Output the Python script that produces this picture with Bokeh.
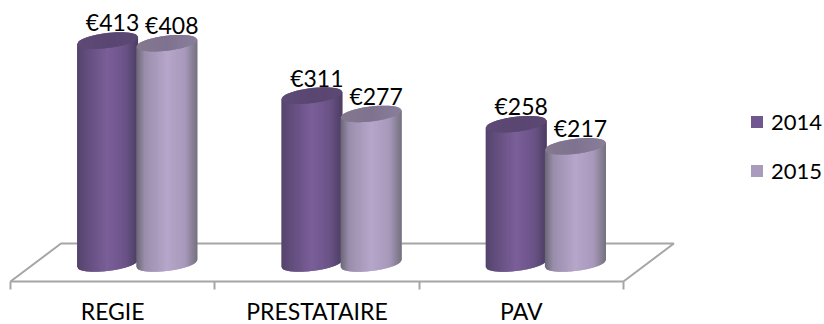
import numpy as np
from bokeh.plotting import figure, ColumnDataSource
from bokeh.embed import file_html
from bokeh.resources import INLINE
from bokeh.models import Range1d, LinearAxis, FixedTicker, Legend, LegendItem
from bokeh.core.properties import value

categories = ["REGIE", "PRESTATAIRE", "PAV"]
series_names = ["2014", "2015"]
values_2014 = [413, 311, 258]
values_2015 = [408, 277, 217]
tick_positions = [0.5, 1.5, 2.5]
tick_edges = [0, 1, 2, 3]

PX_X = 204.3      # pixels per category
PX_Y = 0.54       # pixels per euro
W, H = 824, 324
X0 = 10           # px of category edge 0
Y0 = 61           # px above the picture's bottom of value 0
FLOOR = 43        # px above the picture's bottom of the floor's front edge

FONT = "Lato"
TXT = "#000000"

p = figure(width=W, height=H, output_backend="svg", toolbar_location=None,
           x_range=Range1d(-X0 / PX_X, (W - X0) / PX_X),
           y_range=Range1d(-Y0 / PX_Y, (H - Y0) / PX_Y),
           min_border_left=0, min_border_right=0, min_border_top=0, min_border_bottom=0,
           x_axis_location=None, y_axis_location=None,
           outline_line_color=None, background_fill_color="white", border_fill_color="white")
p.grid.visible = False

# floor
depth_x, depth_y = 50.5 / PX_X, 38 / PX_Y
floor_y = (FLOOR - Y0) / PX_Y
p.line([0, depth_x, 3 + depth_x, 3], [floor_y, floor_y + depth_y, floor_y + depth_y, floor_y],
       line_color="#a6a6a6", line_width=2)

# category axis: front edge of the floor, category boundaries as ticks
axis = LinearAxis(ticker=FixedTicker(ticks=[], minor_ticks=tick_edges),
                  fixed_location=floor_y, major_label_standoff=0,
                  bounds=(0, 3), axis_line_color="#a6a6a6", axis_line_width=2,
                  major_tick_line_color=None, major_tick_in=0, major_tick_out=0,
                  minor_tick_line_color="#a6a6a6", minor_tick_line_width=2,
                  minor_tick_in=0, minor_tick_out=8)
p.add_layout(axis, "below")

src = ColumnDataSource(dict(x=tick_positions, y=[floor_y] * 3, t=categories))
p.text("x", "y", text="t", source=src, text_font=value(FONT), text_font_size="23px",
       text_color=TXT, text_align="center", text_baseline="alphabetic", y_offset=29)


def hex2rgb(h):
    return np.array([int(h[i:i + 2], 16) for i in (1, 3, 5)], float)


def shade(t, stops):
    xs = [s[0] for s in stops]
    cols = np.array([hex2rgb(s[1]) for s in stops])
    c = [np.interp(t, xs, cols[:, k]) for k in range(3)]
    return "#%02x%02x%02x" % tuple(int(round(v)) for v in c)


body_2014 = [(0, "#54446c"), (.12, "#5f4b79"), (.5, "#7b5f99"), (.8, "#6a5387"), (1, "#4c3d62")]
body_2015 = [(0, "#6b6775"), (.14, "#9a8eac"), (.5, "#b6a6ca"), (.8, "#a899bb"), (1, "#75717f")]
cap_2014 = [(0, "#5e4a77"), (.5, "#5a4771"), (1, "#5c4874")]
cap_2015 = [(0, "#85798f"), (.5, "#7e7390"), (1, "#8a7f9b")]

half_w = 30.5 / PX_X
half_h = 7.5 / PX_Y
slope = (3.5 / PX_Y) / half_w   # tilt of the cylinder's ends
offsets = [0.475, 0.765]
N = 60


def cylinder(cx, v, body, cap):
    xs, ys, fills = [], [], []
    edges = np.linspace(-1, 1, N + 1)
    step = edges[1] - edges[0]
    lo = lambda e: -half_h * np.sqrt(np.clip(1 - e * e, 0, 1))
    hi = lambda e: half_h * np.sqrt(np.clip(1 - e * e, 0, 1))
    for part in ("body", "cap"):
        for a in edges[:-1]:
            b = min(a + 2 * step, 1.0)      # strips overlap, so no seams show
            m = a + step / 2
            xa, xb = cx + a * half_w, cx + b * half_w
            ta, tb = slope * a * half_w, slope * b * half_w
            xs.append([xa, xb, xb, xa])
            if part == "body":
                ys.append([ta + lo(a), tb + lo(b), v + tb, v + ta])
                fills.append(shade((m + 1) / 2, body))
            else:
                ys.append([v + ta + lo(a), v + tb + lo(b), v + tb + hi(b), v + ta + hi(a)])
                fills.append(shade((m + 1) / 2, cap))
    return xs, ys, fills


for i in range(3):
    for off, vals, body, cap in ((offsets[0], values_2014, body_2014, cap_2014),
                                 (offsets[1], values_2015, body_2015, cap_2015)):
        xs, ys, fills = cylinder(i + off, vals[i], body, cap)
        src = ColumnDataSource(dict(xs=xs, ys=ys, c=fills))
        p.patches("xs", "ys", source=src, fill_color="c", line_color=None)

# data labels
for off, vals in ((offsets[0], values_2014), (offsets[1], values_2015)):
    src = ColumnDataSource(dict(x=[i + off for i in range(3)], y=vals,
                                t=["€%d" % v for v in vals]))
    p.text("x", "y", text="t", source=src, text_font=value(FONT), text_font_size="23px",
           text_color=TXT, text_align="center", text_baseline="alphabetic",
           x_offset=5, y_offset=-18)

# legend
nan = float("nan")
r1 = p.quad(left=[nan], right=[nan], top=[nan], bottom=[nan], fill_color="#70578f", line_color=None)
r2 = p.quad(left=[nan], right=[nan], top=[nan], bottom=[nan], fill_color="#a99bbd", line_color=None)
legend = Legend(items=[LegendItem(label=series_names[0], renderers=[r1]),
                       LegendItem(label=series_names[1], renderers=[r2])],
                location=(749, 140), glyph_width=15, glyph_height=15, label_standoff=7,
                spacing=22, padding=0, margin=0, border_line_color=None,
                background_fill_alpha=0, label_text_font=FONT, label_text_font_size="22px",
                label_text_color=TXT, label_height=22)
p.add_layout(legend)

open("out.html", "w").write(file_html(p, INLINE))
